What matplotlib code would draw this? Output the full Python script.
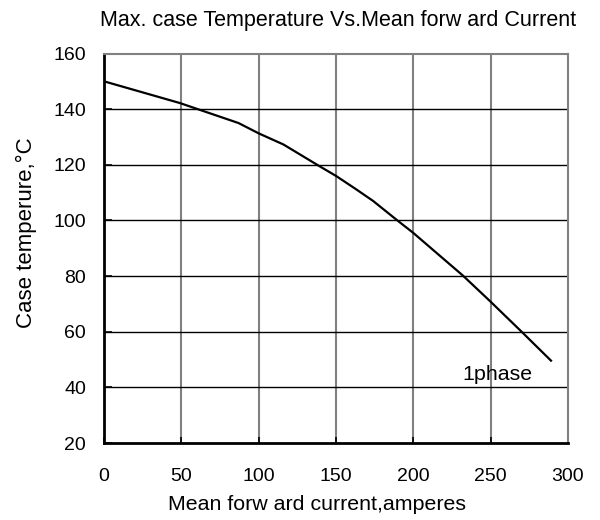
import matplotlib
matplotlib.use("Agg")
import matplotlib.pyplot as plt

plt.rcParams['font.family'] = ['Liberation Sans', 'DejaVu Sans']

# Data
current = [0, 49, 87, 100, 116, 139, 150, 163, 174, 189, 200, 232, 249, 270, 289]
temperature = [150, 142.2, 135, 131.3, 127.3, 119.6, 116, 111.2, 107, 100.3, 95.5, 80.2, 71.3, 60, 49.6]
x_ticks = [0, 50, 100, 150, 200, 250, 300]
y_ticks = [20, 40, 60, 80, 100, 120, 140, 160]

title = "Max. case Temperature Vs.Mean forw ard Current"
xlabel = "Mean forw ard current,amperes"
ylabel = "Case temperure,\u00b0C"
series_label = "1phase"

W, H = 600, 520
fig = plt.figure(figsize=(6, 5.2), dpi=100)
ax = fig.add_axes([104/W, 1 - 443/H, (568-104)/W, (443-53.5)/H])

ax.set_xlim(0, 300)
ax.set_ylim(20, 160)
ax.set_xticks(x_ticks)
ax.set_yticks(y_ticks)

for x in x_ticks[1:-1]:
    ax.axvline(x, color='#808080', lw=1.5, zorder=1)
for y in y_ticks[1:-1]:
    ax.axhline(y, color='black', lw=1.0, zorder=1)

ax.plot(current, temperature, color='black', lw=1.6, zorder=3)

ax.text(232, 42.7, series_label, fontsize=15.4, ha='left', va='baseline')

ax.spines['left'].set_color('black')
ax.spines['left'].set_linewidth(2)
ax.spines['bottom'].set_color('black')
ax.spines['bottom'].set_linewidth(2)
ax.spines['top'].set_color('#808080')
ax.spines['top'].set_linewidth(1.5)
ax.spines['right'].set_color('#808080')
ax.spines['right'].set_linewidth(1.5)

ax.tick_params(axis='y', direction='in', length=6, width=1.2, pad=13, labelsize=14, colors='black')
ax.tick_params(axis='x', direction='in', length=4, width=1.2, pad=18, labelsize=14, colors='black')

fig.text(338/W, 1 - 26/H, title, fontsize=15.5, ha='center', va='baseline')
fig.text(317/W, 1 - 510/H, xlabel, fontsize=15.4, ha='center', va='baseline')
fig.text(32/W, 1 - 233/H, ylabel, fontsize=16, ha='center', va='baseline',
         rotation=90, rotation_mode='anchor')

fig.savefig("out.png", dpi=100)
